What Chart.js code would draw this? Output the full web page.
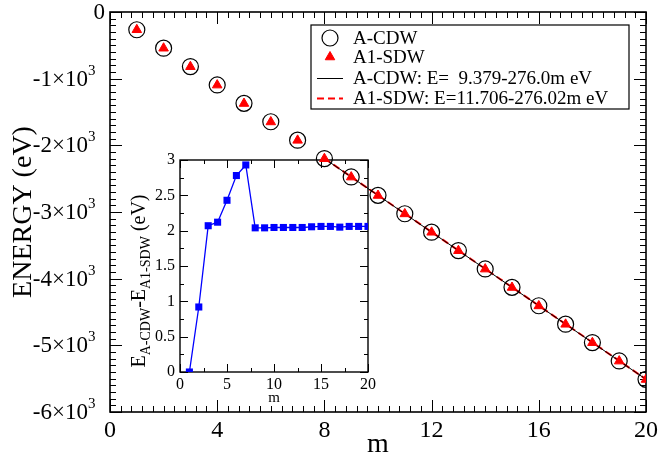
<!DOCTYPE html>
<html>
<head>
<meta charset="utf-8">
<script src="https://cdn.jsdelivr.net/npm/chart.js@4.4.1/dist/chart.umd.min.js"></script>
<style>
  html, body { margin: 0; padding: 0; background: #fff; }
  #wrap { position: relative; width: 662px; height: 456px; }
  #wrap canvas { position: absolute; left: 0; top: 0; }
</style>
</head>
<body>
<div id="wrap">
  <canvas id="insetChart" width="662" height="456"></canvas>
  <canvas id="mainChart" width="662" height="456"></canvas>
</div>
<script>
// data
const mValues = [1, 2, 3, 4, 5, 6, 7, 8, 9, 10, 11, 12, 13, 14, 15, 16, 17, 18, 19, 20];
const cdwEnergy = [-266.6, -542.6, -818.6, -1094.6, -1370.6, -1646.6, -1922.6, -2198.6, -2474.6, -2750.6,
  -3026.6, -3302.6, -3578.6, -3854.6, -4130.6, -4406.6, -4682.6, -4958.6, -5234.6, -5510.6];
const sdwEnergy = [-266.6, -543.5, -820.7, -1096.7, -1373.0, -1649.4, -1925.5, -2200.6, -2476.6, -2752.6,
  -3028.6, -3304.6, -3580.6, -3856.7, -4132.7, -4408.7, -4684.7, -4960.7, -5236.7, -5512.7];
const fitM = [8, 20];
const fitCdwEnergy = [-2198.6, -5510.6];
const fitSdwEnergy = [-2196.5, -5508.7];
const gapValues = [0, 0.92, 2.07, 2.12, 2.43, 2.78, 2.93, 2.04, 2.04, 2.045,
  2.045, 2.045, 2.045, 2.055, 2.06, 2.06, 2.05, 2.06, 2.06, 2.06];

const mainXTicks = [0, 4, 8, 12, 16, 20];
const mainYTicks = [0, -1000, -2000, -3000, -4000, -5000, -6000];
const mainYLabels = ['0', '-1×10', '-2×10', '-3×10', '-4×10', '-5×10', '-6×10'];
const insetXTicks = [0, 5, 10, 15, 20];
const insetYTicks = [0, 0.5, 1, 1.5, 2, 2.5, 3];
const legendLabels = ['A-CDW', 'A1-SDW', 'A-CDW: E=  9.379-276.0m eV', 'A1-SDW: E=11.706-276.02m eV'];

const serif = "'Liberation Serif', 'Times New Roman', serif";

const toPoints = (xs, ys) => xs.map((x, i) => ({ x: x, y: ys[i] }));

// box around the plot with inward ticks on all four sides
const frameTicks = {
  id: 'frameTicks',
  beforeDatasetsDraw(chart, args, o) {
    const { ctx, chartArea: a, scales: { x, y } } = chart;
    ctx.save();
    ctx.strokeStyle = '#000';
    ctx.lineWidth = o.lineWidth;
    ctx.strokeRect(a.left, a.top, a.right - a.left, a.bottom - a.top);
    ctx.beginPath();
    let n = Math.round((x.max - x.min) / o.xMinor);
    for (let i = 0; i <= n; i++) {
      const px = Math.round(x.getPixelForValue(x.min + i * o.xMinor)) + 0.5;
      const len = i % o.xEvery === 0 ? o.major : o.minor;
      ctx.moveTo(px, a.bottom); ctx.lineTo(px, a.bottom - len);
      ctx.moveTo(px, a.top); ctx.lineTo(px, a.top + len);
    }
    n = Math.round((y.max - y.min) / o.yMinor);
    for (let i = 0; i <= n; i++) {
      const py = Math.round(y.getPixelForValue(y.min + i * o.yMinor)) + 0.5;
      const len = i % o.yEvery === 0 ? o.major : o.minor;
      ctx.moveTo(a.left, py); ctx.lineTo(a.left + len, py);
      ctx.moveTo(a.right, py); ctx.lineTo(a.right - len, py);
    }
    ctx.lineWidth = 1;
    ctx.stroke();
    ctx.restore();
  }
};

const mainText = {
  id: 'mainText',
  afterDraw(chart) {
    const { ctx, chartArea: a, scales: { y } } = chart;
    ctx.save();
    ctx.fillStyle = '#000';
    ctx.textBaseline = 'middle';
    mainYTicks.forEach((v, i) => {
      const py = y.getPixelForValue(v);
      ctx.font = `23px ${serif}`;
      ctx.textAlign = 'right';
      if (v === 0) {
        ctx.fillText(mainYLabels[i], 105, py + 1);
        return;
      }
      ctx.fillText(mainYLabels[i], 88, py + 1);
      ctx.font = `15px ${serif}`;
      ctx.textAlign = 'left';
      ctx.fillText('3', 88, py - 8);
    });

    // axis titles
    ctx.font = `28px ${serif}`;
    ctx.textAlign = 'center';
    ctx.textBaseline = 'alphabetic';
    ctx.fillText('m', (a.left + a.right) / 2, 452);
    ctx.translate(31, (a.top + a.bottom) / 2);
    ctx.rotate(-Math.PI / 2);
    ctx.fillText('ENERGY (eV)', 0, 0);
    ctx.restore();

    // legend box
    const ds = chart.data.datasets;
    const box = { left: 311, top: 25, right: 629, bottom: 109 };
    const rows = [38, 57, 78, 98];
    ctx.save();
    ctx.fillStyle = '#fff';
    ctx.fillRect(box.left, box.top, box.right - box.left, box.bottom - box.top);
    ctx.strokeStyle = '#000';
    ctx.lineWidth = 1.2;
    ctx.strokeRect(box.left, box.top, box.right - box.left, box.bottom - box.top);
    rows.forEach((ry, i) => {
      const d = ds[i];
      ctx.save();
      if (d.showLine === false) {
        ctx.fillStyle = d.backgroundColor;
        ctx.strokeStyle = d.borderColor;
        ctx.lineWidth = d.borderWidth;
        Chart.helpers.drawPoint(ctx, {
          pointStyle: d.pointStyle, radius: d.pointRadius, borderWidth: d.borderWidth
        }, 330, ry);
      } else {
        ctx.strokeStyle = d.borderColor;
        ctx.lineWidth = d.borderWidth;
        ctx.setLineDash(d.borderDash || []);
        ctx.beginPath();
        ctx.moveTo(317, ry + 0.5);
        ctx.lineTo(343, ry + 0.5);
        ctx.stroke();
      }
      ctx.restore();
      ctx.fillStyle = '#000';
      ctx.font = `19px ${serif}`;
      ctx.textAlign = 'left';
      ctx.textBaseline = 'middle';
      ctx.fillText(legendLabels[i], 353, ry + 1);
    });
    ctx.restore();
  }
};

const insetText = {
  id: 'insetText',
  afterDraw(chart) {
    const { ctx, chartArea: a } = chart;
    ctx.save();
    ctx.fillStyle = '#000';
    ctx.font = `15px ${serif}`;
    ctx.textAlign = 'center';
    ctx.textBaseline = 'alphabetic';
    ctx.fillText('m', (a.left + a.right) / 2, 402);

    // rotated title with subscripts
    const parts = [
      { t: 'E', size: 20, dy: 0 },
      { t: 'A-CDW', size: 14, dy: 5 },
      { t: '-E', size: 20, dy: 0 },
      { t: 'A1-SDW', size: 14, dy: 5 },
      { t: ' (eV)', size: 20, dy: 0 }
    ];
    let total = 0;
    parts.forEach(p => {
      ctx.font = `${p.size}px ${serif}`;
      p.w = ctx.measureText(p.t).width;
      total += p.w;
    });
    ctx.translate(145, 281);
    ctx.rotate(-Math.PI / 2);
    ctx.textAlign = 'left';
    let cx = -total / 2;
    parts.forEach(p => {
      ctx.font = `${p.size}px ${serif}`;
      ctx.fillText(p.t, cx, p.dy);
      cx += p.w;
    });
    ctx.restore();
  }
};

new Chart(document.getElementById('mainChart'), {
  type: 'scatter',
  data: {
    datasets: [
      {
        label: legendLabels[0],
        data: toPoints(mValues, cdwEnergy),
        showLine: false,
        pointStyle: 'circle',
        pointRadius: 8,
        borderColor: '#000',
        backgroundColor: 'rgba(0,0,0,0)',
        borderWidth: 1.2
      },
      {
        label: legendLabels[1],
        data: toPoints(mValues, sdwEnergy),
        showLine: false,
        pointStyle: 'triangle',
        pointRadius: 5.5,
        borderColor: '#ff0000',
        backgroundColor: '#ff0000',
        borderWidth: 1
      },
      {
        label: legendLabels[2],
        data: toPoints(fitM, fitCdwEnergy),
        showLine: true,
        pointRadius: 0,
        borderColor: '#000',
        borderWidth: 1
      },
      {
        label: legendLabels[3],
        data: toPoints(fitM, fitSdwEnergy),
        showLine: true,
        pointRadius: 0,
        borderColor: '#ff0000',
        borderWidth: 2,
        borderDash: [7, 4]
      }
    ]
  },
  options: {
    responsive: false,
    animation: false,
    layout: { padding: { left: 0, top: 12, right: 12, bottom: 0 } },
    plugins: {
      legend: { display: false },
      tooltip: { enabled: false },
      frameTicks: { lineWidth: 1.6, xMinor: 0.4, xEvery: 10, yMinor: 100, yEvery: 10, major: 12, minor: 6 }
    },
    scales: {
      x: {
        type: 'linear',
        min: 0,
        max: 20,
        afterBuildTicks: s => { s.ticks = mainXTicks.map(v => ({ value: v })); },
        afterFit: s => { s.height = 44; },
        grid: { display: false, drawTicks: false },
        border: { display: false },
        ticks: { color: '#000', font: { family: serif, size: 24 }, padding: 4, maxRotation: 0 }
      },
      y: {
        type: 'linear',
        min: -6000,
        max: 0,
        afterBuildTicks: s => { s.ticks = mainYTicks.map(v => ({ value: v })); },
        afterFit: s => { s.width = 110; },
        grid: { display: false, drawTicks: false },
        border: { display: false },
        ticks: { display: false }
      }
    }
  },
  plugins: [frameTicks, mainText]
});

new Chart(document.getElementById('insetChart'), {
  type: 'line',
  data: {
    datasets: [{
      label: 'gap',
      data: toPoints(mValues, gapValues),
      borderColor: '#0000ff',
      backgroundColor: '#0000ff',
      borderWidth: 1.3,
      pointStyle: 'rect',
      pointRadius: 5,
      pointBorderWidth: 0,
      tension: 0
    }]
  },
  options: {
    responsive: false,
    animation: false,
    layout: { padding: { left: 100, top: 160, right: 294, bottom: 44 } },
    plugins: {
      legend: { display: false },
      tooltip: { enabled: false },
      frameTicks: { lineWidth: 1.4, xMinor: 2.5, xEvery: 2, yMinor: 0.25, yEvery: 2, major: 8, minor: 4 }
    },
    scales: {
      x: {
        type: 'linear',
        min: 0,
        max: 20,
        afterBuildTicks: s => { s.ticks = insetXTicks.map(v => ({ value: v })); },
        afterFit: s => { s.height = 40; },
        grid: { display: false, drawTicks: false },
        border: { display: false },
        ticks: { color: '#000', font: { family: serif, size: 16 }, padding: 3, maxRotation: 0 }
      },
      y: {
        type: 'linear',
        min: 0,
        max: 3,
        afterBuildTicks: s => { s.ticks = insetYTicks.map(v => ({ value: v })); },
        afterFit: s => { s.width = 80; },
        grid: { display: false, drawTicks: false },
        border: { display: false },
        ticks: { color: '#000', font: { family: serif, size: 16 }, padding: 5, callback: v => String(v) }
      }
    }
  },
  plugins: [frameTicks, insetText]
});
</script>
</body>
</html>
